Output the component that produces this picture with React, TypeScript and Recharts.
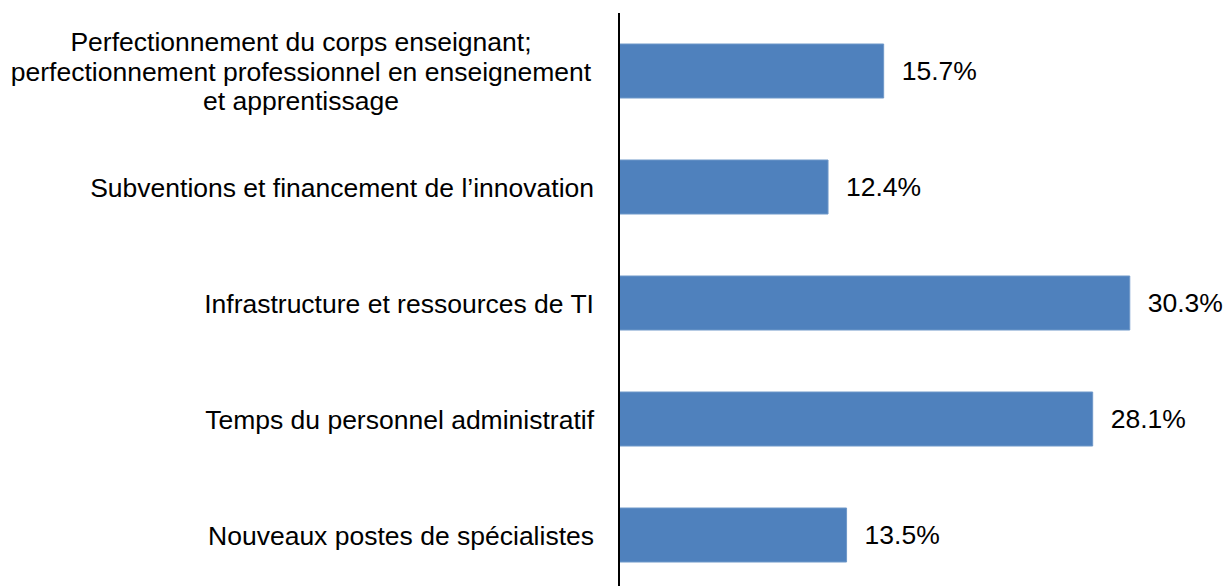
import React from 'react';
import { BarChart, Bar, XAxis, YAxis, LabelList } from 'recharts';

const CATEGORIES = [
  'Perfectionnement du corps enseignant;\nperfectionnement professionnel en enseignement\net apprentissage',
  'Subventions et financement de l’innovation',
  'Infrastructure et ressources de TI',
  'Temps du personnel administratif',
  'Nouveaux postes de spécialistes',
];
const VALUES = [15.7, 12.4, 30.3, 28.1, 13.5];

const data = CATEGORIES.map((name, i) => ({ name, value: VALUES[i] }));

const FONT = '"Liberation Sans", Arial, Helvetica, sans-serif';
const FONT_SIZE = 26.5;
const LINE_H = 29.5;
const BLOCK_W = 586;

const CategoryTick = ({ x, y, payload }: any) => {
  const lines: string[] = String(payload.value).split('\n');
  const right = x - 17;
  if (lines.length === 1) {
    return (
      <text x={right} y={y} dy="0.36em" textAnchor="end" fontFamily={FONT} fontSize={FONT_SIZE} fill="#000">
        {lines[0]}
      </text>
    );
  }
  const cx = right - BLOCK_W / 2;
  const start = -((lines.length - 1) * LINE_H) / 2;
  return (
    <text textAnchor="middle" fontFamily={FONT} fontSize={FONT_SIZE} fill="#000">
      {lines.map((line, i) => (
        <tspan key={i} x={cx} y={y + start + i * LINE_H} dy="0.36em">{line}</tspan>
      ))}
    </text>
  );
};

export default function App() {
  return (
    <div style={{ position: 'absolute', left: 0, top: 0, width: 1226, height: 586, overflow: 'hidden', background: '#fff' }}>
      <BarChart
        width={1226}
        height={600}
        data={data}
        layout="vertical"
        margin={{ top: 13, right: 17, bottom: 7, left: 0 }}
        barSize={54}
      >
        <XAxis type="number" domain={[0, 35]} hide />
        <YAxis
          type="category"
          dataKey="name"
          width={619}
          tick={<CategoryTick />}
          tickLine={false}
          axisLine={{ stroke: '#000', strokeWidth: 2 }}
          interval={0}
        />
        <Bar dataKey="value" fill="#4F81BD" stroke="#6f98c9" strokeWidth={1} isAnimationActive={false}>
          <LabelList
            dataKey="value"
            position="right"
            offset={18}
            formatter={(v: any) => `${Number(v).toFixed(1)}%`}
            style={{ fontFamily: FONT, fontSize: FONT_SIZE, fill: '#000' }}
          />
        </Bar>
      </BarChart>
    </div>
  );
}
